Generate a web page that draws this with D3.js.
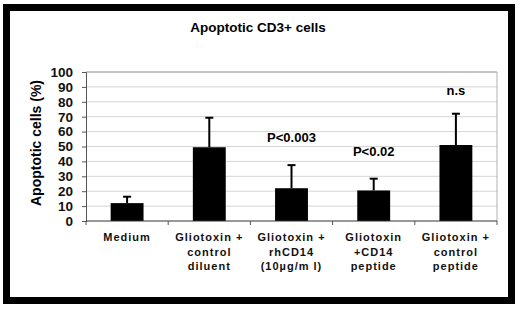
<!DOCTYPE html>
<html><head><meta charset="utf-8">
<script src="https://cdn.jsdelivr.net/npm/d3@7"></script>
<style>body{margin:0;background:#fff}svg{display:block;font-family:Arial,"Liberation Sans",sans-serif}</style>
</head><body>
<svg id="c" width="520" height="310"></svg>
<script>
const categories = [
  ["Medium"],
  ["Gliotoxin +", "control", "diluent"],
  ["Gliotoxin +", "rhCD14", "(10µg/m l)"],
  ["Gliotoxin", "+CD14", "peptide"],
  ["Gliotoxin +", "control", "peptide"]
];
const means = [12, 49.5, 22, 20.5, 51];
const errorTops = [16.3, 69.3, 37.5, 28.4, 72];
const annotations = ["", "", "P<0.003", "P<0.02", "n.s"];
const yTicks = [0,10,20,30,40,50,60,70,80,90,100];

const svg = d3.select("#c");
const L = 86, R = 497, T = 72, B = 221;
const x = d3.scaleBand().domain(d3.range(categories.length)).range([L, R]).paddingInner(0.6).paddingOuter(0.3);
const xb = d3.scaleBand().domain(d3.range(categories.length)).range([L, R]);
const y = d3.scaleLinear().domain([0, 100]).range([B, T]);

// outer frame
svg.append("rect").attr("x", 6.5).attr("y", 7.5).attr("width", 505).attr("height", 293)
  .attr("fill", "none").attr("stroke", "#000").attr("stroke-width", 7);

// title
svg.append("text").attr("x", 258).attr("y", 32).attr("text-anchor", "middle")
  .attr("font-size", 13.5).attr("font-weight", "bold").text("Apoptotic CD3+ cells");

// gridlines
svg.append("g").selectAll("line").data(yTicks.slice(1)).join("line")
  .attr("x1", L).attr("x2", R).attr("y1", d => y(d)).attr("y2", d => y(d))
  .attr("stroke", "#d4d4d4").attr("stroke-width", 1);
// plot frame right/top
svg.append("line").attr("x1", R).attr("x2", R).attr("y1", T).attr("y2", B).attr("stroke", "#b0b0b0");
svg.append("line").attr("x1", L).attr("x2", R).attr("y1", T).attr("y2", T).attr("stroke", "#a0a0a0");

// y axis
const ya = svg.append("g").attr("transform", `translate(${L},0)`)
  .call(d3.axisLeft(y).tickValues(yTicks).tickSize(4).tickPadding(9));
ya.select(".domain").attr("stroke", "#555");
ya.selectAll(".tick line").attr("stroke", "#555");
ya.selectAll("text").attr("font-size", 13.5).attr("font-weight", "bold").attr("fill", "#111")
  .attr("font-family", "Arial, 'Liberation Sans', sans-serif");

// y label
svg.append("text").attr("transform", "translate(41,143) rotate(-90)").attr("text-anchor", "middle")
  .attr("font-size", 14).attr("font-weight", "bold").text("Apoptotic cells (%)");

// bars
svg.append("g").selectAll("rect").data(means).join("rect")
  .attr("x", (d, i) => x(i)).attr("width", x.bandwidth())
  .attr("y", d => y(d)).attr("height", d => B - y(d)).attr("fill", "#000");

// error bars
const eb = svg.append("g").attr("stroke", "#000").attr("stroke-width", 2);
errorTops.forEach((e, i) => {
  const cx = x(i) + x.bandwidth() / 2;
  eb.append("line").attr("x1", cx).attr("x2", cx).attr("y1", y(means[i])).attr("y2", y(e));
  eb.append("line").attr("x1", cx - 4).attr("x2", cx + 4).attr("y1", y(e)).attr("y2", y(e));
});

// x axis
const xa = svg.append("g").attr("transform", `translate(0,${B})`);
xa.append("line").attr("x1", L).attr("x2", R).attr("stroke", "#333").attr("stroke-width", 1);
xa.selectAll("line.t").data(d3.range(categories.length + 1)).join("line").attr("class", "t")
  .attr("x1", d => L + d * xb.bandwidth()).attr("x2", d => L + d * xb.bandwidth())
  .attr("y1", 0).attr("y2", 4).attr("stroke", "#555");

// category labels
categories.forEach((lines, i) => {
  const cx = xb(i) + xb.bandwidth() / 2;
  const t = svg.append("text").attr("text-anchor", "middle").attr("font-size", 11)
    .attr("font-weight", "bold").attr("letter-spacing", 1).attr("fill", "#111");
  lines.forEach((s, j) => t.append("tspan").attr("x", cx).attr("y", 241 + j * 14.5).text(s));
});

// annotations
const annY = [0, 0, 142, 156, 95];
annotations.forEach((a, i) => {
  if (!a) return;
  svg.append("text").attr("x", x(i) + x.bandwidth() / 2).attr("y", annY[i])
    .attr("text-anchor", "middle").attr("font-size", 13).attr("font-weight", "bold").text(a);
});
</script>
</body></html>
